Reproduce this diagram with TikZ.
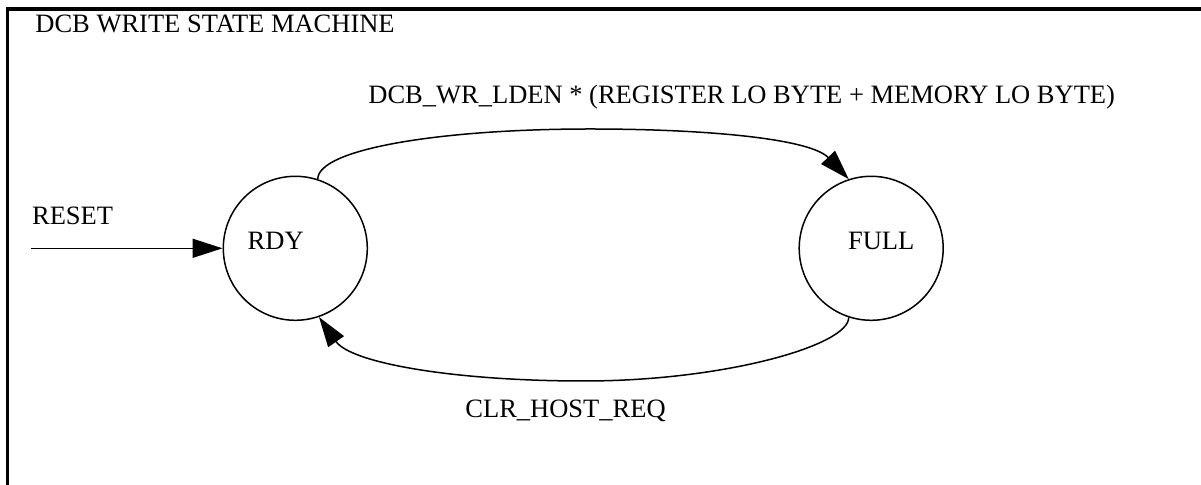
\documentclass[tikz,border=0pt]{standalone}
\usepackage{fontspec}
\setmainfont{Liberation Serif}
\usetikzlibrary{arrows.meta}
\begin{document}
\begin{tikzpicture}[x=0.5pt,y=-0.5pt,
  state/.style={circle,draw,line width=0.75pt,minimum size=72pt,inner sep=0pt},
  lbl/.style={anchor=base west,inner sep=0pt,font=\fontsize{13.25}{15}\selectfont},
  conn/.style={line width=0.75pt,-{Triangle[length=15pt,width=9.5pt]}},
  frame/.style={line width=1.6pt}]
\useasboundingbox (0,0) rectangle (1201,485);
% frame
\coordinate (fbl) at (7.5,486);
\coordinate (ftl) at (7.5,9);
\coordinate (ftr) at (1202,9);
\draw[frame] (fbl) -- (ftl) -- (ftr);
% title
\node[lbl] (title) at (35,32.3) {DCB WRITE STATE MACHINE};
% states
\node[state] (rdy) at (295.3,248.3) {};
\node[state] (full) at (871.2,248.3) {};
\node[lbl] (rdytxt) at (247.3,249.3) {RDY};
\node[lbl] (fulltxt) at (847.7,249.3) {FULL};
% reset
\coordinate (rstart) at (30.7,248.3);
\node[lbl] (reset) at (31.7,225) {RESET};
\draw[conn] (rstart) -- (rdy.west);
% top transition
\coordinate (toppeak) at (590,129);
\draw[conn] (rdy.72) .. controls +(0,-30) and +(-150,0) .. (toppeak)
   .. controls +(120,0) and +(-38,-40) .. (full.108);
\node[lbl] (toplbl) at (368,103.3) {DCB\_WR\_LDEN * (REGISTER LO BYTE + MEMORY LO BYTE)};
% bottom transition
\coordinate (botlow) at (584,381);
\draw[conn] (full.252) .. controls +(0,28) and +(140,0) .. (botlow)
   .. controls +(-130,0) and +(32,46) .. (rdy.289);
\node[lbl] (botlbl) at (465,417.3) {CLR\_HOST\_REQ};
\end{tikzpicture}
\end{document}
